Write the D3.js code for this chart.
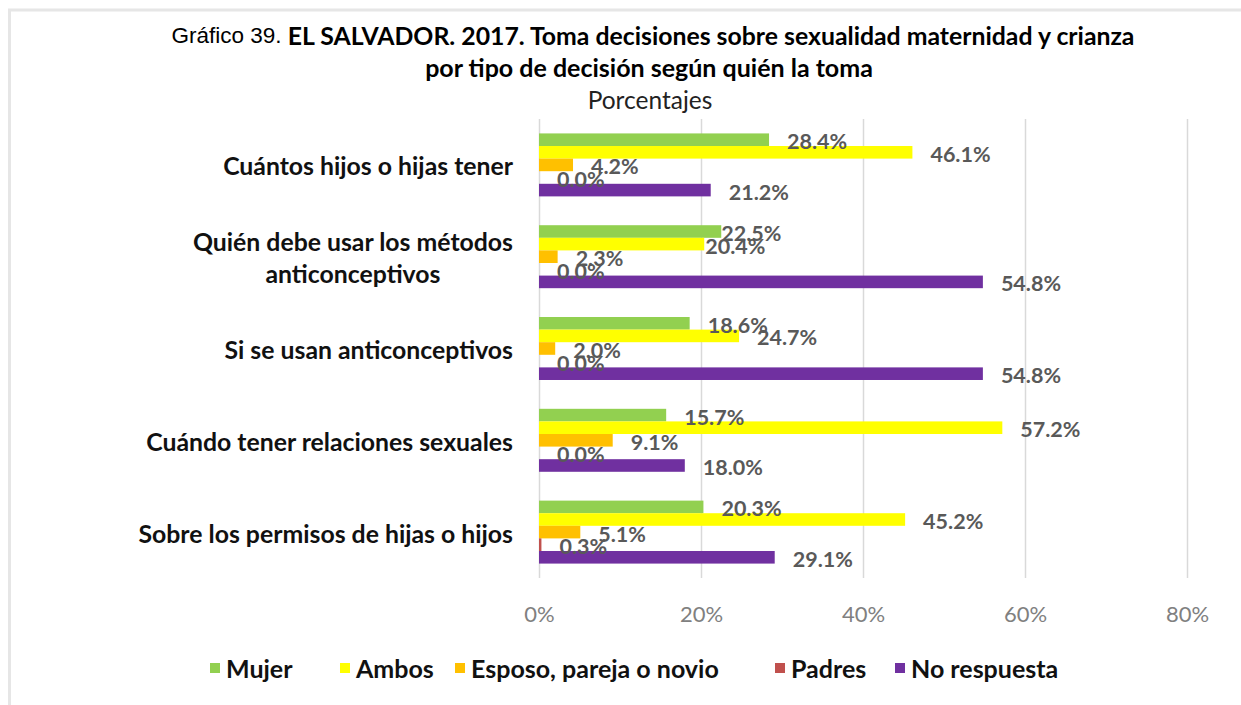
<!DOCTYPE html>
<html>
<head>
<meta charset="utf-8">
<script src="https://cdn.jsdelivr.net/npm/d3@7/dist/d3.min.js"></script>
<style>
  html, body { margin: 0; padding: 0; background: #ffffff; }
  svg { display: block; }
</style>
</head>
<body>
<svg id="chart" width="1241" height="705"></svg>
<script>
// ---- Data ----
const categories = [
  "Cuántos hijos o hijas tener",
  "Quién debe usar los métodos anticonceptivos",
  "Si se usan anticonceptivos",
  "Cuándo tener relaciones sexuales",
  "Sobre los permisos de hijas o hijos"
];
const categoryLines = [
  ["Cuántos hijos o hijas tener"],
  ["Quién debe usar los métodos", "anticonceptivos"],
  ["Si se usan anticonceptivos"],
  ["Cuándo tener relaciones sexuales"],
  ["Sobre los permisos de hijas o hijos"]
];
const seriesNames = ["Mujer", "Ambos", "Esposo, pareja o novio", "Padres", "No respuesta"];
const mujer       = [28.4, 22.5, 18.6, 15.7, 20.3];
const ambos       = [46.1, 20.4, 24.7, 57.2, 45.2];
const esposo      = [4.2, 2.3, 2.0, 9.1, 5.1];
const padres      = [0.0, 0.0, 0.0, 0.0, 0.3];
const noRespuesta = [21.2, 54.8, 54.8, 18.0, 29.1];
const xTicks = [0, 20, 40, 60, 80];
const xTickLabels = ["0%", "20%", "40%", "60%", "80%"];

// ---- Style / layout ----
const colors = ["#92D050", "#FFFF00", "#FFC000", "#C0504D", "#7030A0"];
const seriesValues = [mujer, ambos, esposo, padres, noRespuesta];
// manual label nudges seen in the reference (category index - series index : px)
const labelNudge = { "1-0": -18, "1-1": -17 };
// legend swatch positions as laid out in the reference
const legendX = [210, 340, 455, 775, 895];

const svg = d3.select("#chart");
const W = 1241, H = 705;

// frame
svg.append("rect").attr("x", 9.5).attr("y", 10).attr("width", W + 20).attr("height", H + 20)
  .attr("fill", "none").attr("stroke", "#e6e6e6").attr("stroke-width", 3);

const plotLeft = 539, plotTop = 119, plotBottom = 578;
const x = d3.scaleLinear().domain([0, 80]).range([plotLeft, 1187]);
const y0 = d3.scaleBand().domain(categories).range([plotTop, plotBottom])
  .paddingInner(0.314).paddingOuter(0.157);
const y1 = d3.scaleBand().domain(seriesNames).range([0, y0.bandwidth()]);

// gridlines
svg.append("g").selectAll("line").data(xTicks).join("line")
  .attr("x1", d => x(d) + 0.5).attr("x2", d => x(d) + 0.5)
  .attr("y1", plotTop).attr("y2", plotBottom)
  .attr("stroke", "#d9d9d9").attr("stroke-width", 1.5);

// x axis tick labels
const xAxis = d3.axisBottom(x).tickValues(xTicks)
  .tickFormat((d, i) => xTickLabels[i]).tickSize(0).tickPadding(0);
const gx = svg.append("g").attr("transform", `translate(0, ${plotBottom + 25})`).call(xAxis);
gx.select(".domain").remove();
gx.selectAll("text")
  .attr("font-family", "Lato, sans-serif").attr("font-size", 22)
  .attr("fill", "#808080").attr("dy", "0.35em").attr("y", 11);

// bars
const groups = svg.append("g").selectAll("g").data(categories).join("g")
  .attr("transform", d => `translate(0, ${y0(d)})`);

groups.each(function(cat, ci) {
  const g = d3.select(this);
  const rows = seriesNames.map((s, si) => ({ s, si, v: seriesValues[si][ci] }));
  g.selectAll("rect").data(rows).join("rect")
    .attr("x", x(0))
    .attr("y", d => y1(d.s))
    .attr("width", d => Math.max(0, x(d.v) - x(0)))
    .attr("height", y1.bandwidth())
    .attr("fill", d => colors[d.si]);
  g.selectAll("text").data(rows).join("text")
    .attr("x", d => x(d.v) + 18 + (labelNudge[ci + "-" + d.si] || 0))
    .attr("y", d => y1(d.s) + y1.bandwidth() / 2 + 1.5)
    .attr("dominant-baseline", "central")
    .attr("font-family", "Lato, sans-serif").attr("font-weight", "bold")
    .attr("font-size", 21.5).attr("fill", "#595959")
    .text(d => d.v.toFixed(1) + "%");
});

// category labels (wrapped lines centred within the block, block right-aligned)
const catG = svg.append("g");
categories.forEach((c, ci) => {
  const lines = categoryLines[ci];
  const cy = y0(c) + y0.bandwidth() / 2;
  const lh = 32;
  const t = catG.append("text")
    .attr("text-anchor", "middle")
    .attr("font-family", "Lato, sans-serif").attr("font-weight", "bold")
    .attr("font-size", 24.8).attr("fill", "#111");
  const spans = lines.map((ln, li) => t.append("tspan")
      .attr("y", cy + (li - (lines.length - 1) / 2) * lh + 1)
      .attr("dominant-baseline", "central")
      .text(ln));
  const maxW = d3.max(spans, s => s.node().getComputedTextLength());
  spans.forEach(s => s.attr("x", 513 - maxW / 2));
});

// title
const t1 = svg.append("text").attr("x", 653).attr("y", 35).attr("text-anchor", "middle")
  .attr("dominant-baseline", "central").attr("fill", "#000");
t1.append("tspan").attr("font-family", "'Liberation Sans', Arial, sans-serif").attr("font-size", 22.5)
  .text("Gráfico 39. ");
t1.append("tspan").attr("font-family", "Lato, sans-serif").attr("font-weight", "bold").attr("font-size", 24.8)
  .text("EL SALVADOR. 2017. Toma decisiones sobre sexualidad maternidad y crianza");
svg.append("text").attr("x", 649).attr("y", 67).attr("text-anchor", "middle")
  .attr("dominant-baseline", "central")
  .attr("font-family", "Lato, sans-serif").attr("font-weight", "bold").attr("font-size", 25)
  .attr("fill", "#000").text("por tipo de decisión según quién la toma");
svg.append("text").attr("x", 650).attr("y", 99).attr("text-anchor", "middle")
  .attr("dominant-baseline", "central")
  .attr("font-family", "Lato, sans-serif").attr("font-size", 24.5)
  .attr("fill", "#222").text("Porcentajes");

// legend
const legend = svg.append("g");
const items = legend.selectAll("g").data(seriesNames).join("g")
  .attr("transform", (d, i) => `translate(${legendX[i]}, 668)`);
items.append("rect").attr("width", 10).attr("height", 10).attr("y", -5)
  .attr("fill", (d, i) => colors[i]);
items.append("text").attr("x", 16).attr("dominant-baseline", "central")
  .attr("font-family", "Lato, sans-serif").attr("font-weight", "bold")
  .attr("font-size", 25).attr("fill", "#111").text(d => d);
</script>
</body>
</html>
